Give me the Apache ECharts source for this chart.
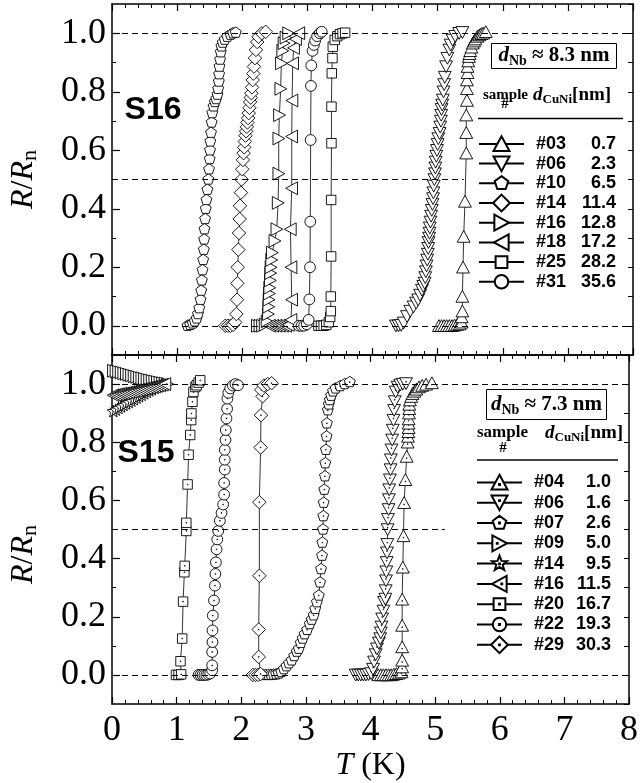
<!DOCTYPE html>
<html><head><meta charset="utf-8">
<script src="https://cdn.jsdelivr.net/npm/echarts@6/dist/echarts.min.js"></script>
<style>html,body{margin:0;padding:0;background:#fff}#c{width:641px;height:783px}</style>
</head><body><div id="c"></div>
<script>
// ---------- DATA ----------
// Panel S16 (d_Nb ~ 8.3 nm): [T (K), R/Rn]
const s16_03 = [[5.02,0],[5.06,0],[5.10,0],[5.14,0],[5.18,0],[5.22,0],[5.26,0.002],[5.30,0.004],[5.34,0.006],[5.37,0.012],[5.37,0.03],[5.38,0.05],[5.38,0.10],[5.39,0.20],[5.40,0.305],[5.42,0.425],[5.44,0.59],[5.44,0.66],[5.44,0.72],[5.45,0.77],[5.45,0.81],[5.45,0.84],[5.46,0.865],[5.46,0.886],[5.47,0.905],[5.48,0.92],[5.49,0.93],[5.50,0.94],[5.52,0.952],[5.54,0.966],[5.56,0.973],[5.58,0.98],[5.61,0.989],[5.64,0.994],[5.67,0.998],[5.70,1.0],[5.74,1.005]];
const s16_06 = [[4.36,0],[4.40,0],[4.44,0.002],[4.48,0.01],[4.53,0.032],[4.58,0.05],[4.63,0.065],[4.67,0.078],[4.70,0.089],[4.73,0.105],[4.76,0.122],[4.78,0.135],[4.80,0.146],[4.81,0.165],[4.82,0.185],[4.83,0.205],[4.84,0.225],[4.85,0.245],[4.855,0.265],[4.86,0.285],[4.87,0.30],[4.875,0.317],[4.88,0.335],[4.89,0.355],[4.90,0.375],[4.91,0.395],[4.92,0.415],[4.93,0.435],[4.935,0.455],[4.94,0.478],[4.95,0.50],[4.96,0.52],[4.965,0.54],[4.97,0.56],[4.98,0.58],[4.99,0.60],[5.00,0.62],[5.01,0.64],[5.03,0.658],[5.04,0.68],[5.05,0.70],[5.055,0.72],[5.06,0.74],[5.07,0.755],[5.08,0.772],[5.09,0.80],[5.10,0.825],[5.11,0.85],[5.13,0.886],[5.15,0.915],[5.18,0.943],[5.20,0.96],[5.23,0.977],[5.27,0.99],[5.33,1.0],[5.38,1.003]];
const s16_10 = [[1.16,0],[1.20,0.003],[1.24,0.008],[1.27,0.015],[1.30,0.025],[1.32,0.04],[1.34,0.06],[1.36,0.089],[1.37,0.12],[1.38,0.155],[1.39,0.19],[1.40,0.225],[1.41,0.26],[1.415,0.295],[1.42,0.33],[1.43,0.365],[1.44,0.40],[1.45,0.43],[1.465,0.465],[1.48,0.50],[1.49,0.535],[1.50,0.57],[1.505,0.60],[1.51,0.63],[1.52,0.66],[1.53,0.695],[1.54,0.727],[1.56,0.75],[1.58,0.765],[1.60,0.775],[1.62,0.79],[1.63,0.81],[1.64,0.835],[1.645,0.86],[1.65,0.886],[1.66,0.91],[1.67,0.935],[1.68,0.955],[1.70,0.968],[1.73,0.978],[1.77,0.988],[1.82,0.995],[1.86,1.0],[1.90,1.002]];
const s16_14 = [[1.74,0],[1.78,0],[1.82,0],[1.86,0.003],[1.89,0.012],[1.91,0.04],[1.92,0.089],[1.925,0.145],[1.93,0.20],[1.94,0.26],[1.95,0.317],[1.96,0.365],[1.965,0.41],[1.98,0.455],[1.99,0.50],[2.00,0.535],[2.01,0.567],[2.02,0.59],[2.03,0.61],[2.04,0.63],[2.05,0.65],[2.06,0.665],[2.07,0.68],[2.08,0.695],[2.09,0.71],[2.10,0.727],[2.11,0.745],[2.12,0.765],[2.13,0.78],[2.14,0.795],[2.15,0.815],[2.16,0.84],[2.17,0.862],[2.18,0.886],[2.195,0.915],[2.21,0.943],[2.23,0.97],[2.25,0.988],[2.30,1.0],[2.36,1.005]];
const s16_16 = [[2.23,0],[2.27,0],[2.31,0],[2.35,0.004],[2.38,0.015],[2.40,0.04],[2.405,0.065],[2.41,0.089],[2.415,0.11],[2.42,0.13],[2.43,0.155],[2.435,0.18],[2.44,0.20],[2.45,0.225],[2.46,0.25],[2.50,0.29],[2.53,0.33],[2.55,0.42],[2.56,0.52],[2.56,0.64],[2.57,0.72],[2.59,0.81],[2.60,0.897],[2.62,0.94],[2.64,0.966],[2.67,0.985],[2.71,1.0]];
const s16_18 = [[2.42,0],[2.47,0],[2.52,0],[2.57,0],[2.62,0],[2.67,0],[2.71,0.003],[2.75,0.02],[2.76,0.089],[2.75,0.20],[2.74,0.33],[2.76,0.47],[2.76,0.647],[2.765,0.77],[2.775,0.897],[2.79,0.95],[2.82,0.98],[2.87,1.0]];
const s16_25 = [[3.17,0],[3.21,0],[3.25,0],[3.29,0.003],[3.33,0.012],[3.35,0.03],[3.36,0.05],[3.36,0.10],[3.365,0.237],[3.365,0.43],[3.37,0.624],[3.37,0.749],[3.375,0.863],[3.385,0.915],[3.39,0.954],[3.42,0.977],[3.46,0.99],[3.50,0.997],[3.54,1.0],[3.58,1.002]];
const s16_31 = [[2.87,0],[2.91,0],[2.95,0],[2.99,0.005],[3.02,0.02],[3.03,0.09],[3.04,0.20],[3.045,0.356],[3.05,0.635],[3.055,0.82],[3.06,0.89],[3.08,0.94],[3.10,0.96],[3.12,0.975],[3.15,0.99],[3.19,1.0],[3.22,1.005]];

// Panel S15 (d_Nb ~ 7.3 nm)
const s15_04 = [[4.12,0],[4.16,0],[4.20,0],[4.24,0],[4.28,0],[4.32,0],[4.36,0.002],[4.40,0.004],[4.44,0.006],[4.48,0.01],[4.49,0.027],[4.49,0.05],[4.49,0.096],[4.49,0.17],[4.49,0.26],[4.50,0.37],[4.51,0.478],[4.52,0.592],[4.54,0.671],[4.56,0.751],[4.575,0.80],[4.58,0.82],[4.585,0.836],[4.59,0.85],[4.59,0.865],[4.59,0.88],[4.595,0.90],[4.60,0.915],[4.60,0.93],[4.61,0.945],[4.63,0.957],[4.65,0.967],[4.68,0.975],[4.71,0.982],[4.75,0.99],[4.80,0.995],[4.86,0.999],[4.95,1.004]];
const s15_06 = [[3.77,0],[3.81,0],[3.85,0],[3.89,0],[3.93,0],[3.97,0.002],[4.01,0.005],[4.04,0.02],[4.055,0.045],[4.08,0.07],[4.10,0.09],[4.13,0.11],[4.15,0.125],[4.16,0.145],[4.17,0.165],[4.18,0.193],[4.20,0.22],[4.21,0.25],[4.23,0.261],[4.235,0.29],[4.24,0.324],[4.245,0.355],[4.25,0.387],[4.255,0.42],[4.26,0.449],[4.265,0.5],[4.27,0.535],[4.28,0.569],[4.285,0.603],[4.29,0.637],[4.30,0.671],[4.31,0.706],[4.315,0.74],[4.325,0.774],[4.335,0.808],[4.345,0.842],[4.355,0.876],[4.365,0.91],[4.375,0.94],[4.39,0.973],[4.42,0.99],[4.46,0.997],[4.50,1.0],[4.55,1.002]];
const s15_07 = [[2.34,0],[2.38,0],[2.42,0],[2.46,0],[2.50,0.001],[2.54,0.002],[2.58,0.005],[2.62,0.01],[2.66,0.02],[2.70,0.03],[2.74,0.04],[2.78,0.05],[2.82,0.065],[2.86,0.08],[2.89,0.09],[2.92,0.11],[2.95,0.125],[2.98,0.14],[3.02,0.155],[3.06,0.175],[3.09,0.19],[3.12,0.205],[3.145,0.227],[3.17,0.25],[3.20,0.273],[3.22,0.318],[3.235,0.364],[3.25,0.41],[3.255,0.455],[3.265,0.5],[3.27,0.546],[3.275,0.592],[3.285,0.637],[3.295,0.683],[3.30,0.728],[3.31,0.774],[3.32,0.82],[3.325,0.865],[3.34,0.91],[3.355,0.93],[3.37,0.945],[3.39,0.96],[3.42,0.975],[3.46,0.985],[3.53,0.993],[3.60,1.0],[3.68,1.007]];
const s15_09 = [[0.02,1.046],[0.06,1.044],[0.10,1.042],[0.14,1.040],[0.18,1.037],[0.22,1.035],[0.26,1.032],[0.30,1.030],[0.34,1.027],[0.38,1.025],[0.42,1.022],[0.46,1.020],[0.50,1.018],[0.54,1.015],[0.58,1.013],[0.62,1.011],[0.66,1.009],[0.70,1.007],[0.74,1.005],[0.78,1.003],[0.82,1.002],[0.86,1.0]];
const s15_14 = [[0.02,0.905],[0.06,0.910],[0.10,0.916],[0.14,0.921],[0.18,0.926],[0.22,0.931],[0.26,0.936],[0.30,0.941],[0.34,0.946],[0.38,0.951],[0.42,0.956],[0.46,0.961],[0.50,0.966],[0.54,0.971],[0.58,0.976],[0.62,0.980],[0.66,0.985],[0.70,0.989],[0.74,0.993],[0.78,0.997]];
const s15_16 = [[0.02,0.962],[0.06,0.963],[0.10,0.965],[0.14,0.967],[0.18,0.968],[0.22,0.970],[0.26,0.972],[0.30,0.974],[0.34,0.976],[0.38,0.978],[0.42,0.980],[0.46,0.982],[0.50,0.984],[0.54,0.986],[0.58,0.988],[0.62,0.990],[0.66,0.992],[0.70,0.994],[0.74,0.996],[0.78,0.998],[0.82,1.0]];
const s15_20 = [[0.99,0],[1.03,0],[1.07,0.002],[1.06,0.047],[1.086,0.125],[1.10,0.252],[1.12,0.353],[1.125,0.375],[1.15,0.495],[1.15,0.523],[1.17,0.655],[1.185,0.757],[1.21,0.825],[1.225,0.876],[1.228,0.899],[1.245,0.939],[1.26,0.973],[1.29,0.99],[1.31,0.996],[1.34,1.005],[1.365,1.013]];
const s15_22 = [[1.34,0],[1.37,0],[1.40,0],[1.43,0],[1.46,0],[1.49,0.002],[1.52,0.005],[1.55,0.016],[1.55,0.033],[1.55,0.079],[1.555,0.113],[1.555,0.153],[1.56,0.204],[1.578,0.256],[1.593,0.307],[1.60,0.347],[1.608,0.387],[1.618,0.432],[1.629,0.466],[1.644,0.495],[1.669,0.53],[1.695,0.557],[1.72,0.586],[1.735,0.62],[1.735,0.66],[1.745,0.706],[1.745,0.74],[1.745,0.774],[1.756,0.808],[1.761,0.842],[1.771,0.882],[1.781,0.915],[1.786,0.95],[1.80,0.97],[1.83,0.985],[1.87,0.995],[1.91,1.0],[1.95,0.996]];
const s15_29 = [[2.18,0],[2.22,0],[2.26,0],[2.30,0.003],[2.27,0.062],[2.27,0.156],[2.28,0.341],[2.28,0.594],[2.30,0.782],[2.305,0.893],[2.33,0.958],[2.31,0.98],[2.35,0.995],[2.41,1.0],[2.47,1.003]];

// legend tables
const topIds    = ['#03','#06','#10','#14','#16','#18','#25','#31'];
const topDCuNi  = ['0.7','2.3','6.5','11.4','12.8','17.2','28.2','35.6'];
const botIds    = ['#04','#06','#07','#09','#14','#16','#20','#22','#29'];
const botDCuNi  = ['1.0','1.6','2.6','5.0','9.5','11.5','16.7','19.3','30.3'];
const yTicks = [0, 0.2, 0.4, 0.6, 0.8, 1.0];
const yMinorTicks = [0.1, 0.3, 0.5, 0.7, 0.9];
const refLevels = [0, 0.5, 1.0];
const halfLineEnd = [5.40, 5.15];

// ---------- SYMBOLS ----------
const BOX = 'M0 0M20 20';
const SH = {
  up:'M10 1L19.5 18.5L0.5 18.5Z', down:'M0.5 1.5L19.5 1.5L10 19Z',
  right:'M1.5 0.5L19 10L1.5 19.5Z', left:'M18.5 0.5L1 10L18.5 19.5Z',
  pent:'M10 1.5L18.1 7.4L15 16.9L5 16.9L1.9 7.4Z', diamond:'M10 0L20 10L10 20L0 10Z',
  square:'M3 3L17 3L17 17L3 17Z', circle:'M2 10A8 8 0 1 1 18 10A8 8 0 1 1 2 10Z',
  star:'M10 0.5L12.35 6.76L19.03 7.06L13.8 11.24L15.58 17.69L10 14L4.42 17.69L6.2 11.24L0.97 7.06L7.65 6.76Z'
};
const DC = {up:[10,12.5],down:[10,7.5],right:[7.3,10],left:[12.7,10],pent:[10,10],diamond:[10,10],square:[10,10],circle:[10,10],star:[10,10.3]};
function sym(k, dot){
  let p = 'path://' + BOX + SH[k];
  if (dot){ const c = DC[k]; p += 'M'+(c[0]-0.5)+' '+(c[1]-0.5)+'L'+(c[0]+0.5)+' '+(c[1]-0.5)+'L'+(c[0]+0.5)+' '+(c[1]+0.5)+'L'+(c[0]-0.5)+' '+(c[1]+0.5)+'Z'; }
  return p;
}
function mk(name, data, k, g){
  return {type:'line', name, data, xAxisIndex:g*2, yAxisIndex:g*3,
    symbol:sym(k, g===1), symbolSize:13.5, showAllSymbol:true, silent:true, animation:false,
    lineStyle:{color:'#000', width:0.8}, itemStyle:{color:'#fff', borderColor:'#000', borderWidth:0.9},
    emphasis:{disabled:true}, z:3};
}
const topSeries = [
  mk('S16 #03', s16_03, 'up', 0), mk('S16 #06', s16_06, 'down', 0), mk('S16 #10', s16_10, 'pent', 0),
  mk('S16 #14', s16_14, 'diamond', 0), mk('S16 #16', s16_16, 'right', 0), mk('S16 #18', s16_18, 'left', 0),
  mk('S16 #25', s16_25, 'square', 0), mk('S16 #31', s16_31, 'circle', 0)];
const botSeries = [
  mk('S15 #04', s15_04, 'up', 1), mk('S15 #06', s15_06, 'down', 1), mk('S15 #07', s15_07, 'pent', 1),
  mk('S15 #09', s15_09, 'right', 1), mk('S15 #14', s15_14, 'star', 1), mk('S15 #16', s15_16, 'left', 1),
  mk('S15 #20', s15_20, 'square', 1), mk('S15 #22', s15_22, 'circle', 1), mk('S15 #29', s15_29, 'diamond', 1)];

function refLines(g){
  return {type:'line', data:[], xAxisIndex:g*2, yAxisIndex:g*3, z:1, silent:true,
    markLine:{silent:true, animation:false, symbol:['none','none'], label:{show:false},
      lineStyle:{type:[6,4], color:'#000', width:1},
      data:[{yAxis:refLevels[0]}, {yAxis:refLevels[2]},
        [{coord:[0, refLevels[1]]}, {coord:[halfLineEnd[g], refLevels[1]]}]]}};
}

const SERIF = 'Liberation Serif', SANS = 'Liberation Sans';
function xAx(g, pos, labels){
  return {type:'value', gridIndex:g, position:pos, min:0, max:8, interval:1,
    axisLine:{show:true, onZero:false, lineStyle:{color:'#000', width:1.5}},
    axisTick:{show:true, inside:true, length:7, lineStyle:{color:'#000', width:1.2}},
    minorTick:{show:true, splitNumber:5, length:4, lineStyle:{color:'#000', width:1}},
    splitLine:{show:false}, minorSplitLine:{show:false},
    axisLabel:{show:labels, fontFamily:SERIF, fontSize:36, color:'#000', margin:9},
    name: labels ? '{i|T}{r| (K)}' : '', nameLocation:'middle', nameGap:46,
    nameTextStyle:{rich:{i:{fontFamily:SERIF, fontStyle:'italic', fontSize:32, color:'#000'}, r:{fontFamily:SERIF, fontSize:32, color:'#000'}}}};
}
function yMaj(g){
  return {type:'value', gridIndex:g, position:'left', min:-0.1, max:1.1,
    axisLine:{show:true, onZero:false, lineStyle:{color:'#000', width:1.5}},
    axisTick:{show:true, inside:true, length:8, customValues:yTicks, lineStyle:{color:'#000', width:1.2}},
    axisLabel:{show:true, customValues:yTicks, formatter:v=>v.toFixed(1), fontFamily:SERIF, fontSize:36, color:'#000', margin:6},
    splitLine:{show:false},
    name:'{i|R}{r|/}{i|R}{s|n}', nameLocation:'middle', nameRotate:90, nameGap:71,
    nameTextStyle:{rich:{i:{fontFamily:SERIF, fontStyle:'italic', fontSize:32, color:'#000'}, r:{fontFamily:SERIF, fontSize:32, color:'#000'},
      s:{fontFamily:SERIF, fontSize:22, color:'#000', padding:[12, g===1 ? 50 : 0, 0, 0]}}}};
}
function yMin(g){
  return {type:'value', gridIndex:g, position:'left', min:-0.1, max:1.1,
    axisLine:{show:false, onZero:false}, axisLabel:{show:false}, splitLine:{show:false},
    axisTick:{show:true, inside:true, length:4, customValues:yMinorTicks, lineStyle:{color:'#000', width:1}}};
}
function yRight(g){
  return {type:'value', gridIndex:g, position:'right', min:-0.1, max:1.1, interval:0.1,
    axisLine:{show:true, onZero:false, lineStyle:{color:'#000', width:1.5}}, axisLabel:{show:false}, splitLine:{show:false},
    axisTick:{show:true, inside:true, length:5, lineStyle:{color:'#000', width:1}}};
}

function legendFor(series, ids, vals, left, top, gap, bw){
  const map = {};
  series.forEach((s,i)=>{ map[s.name] = [ids[i], vals[i]]; });
  return {orient:'vertical', left, top, padding:0, itemWidth:45, itemHeight:21, itemGap:gap, selectedMode:false,
    data: series.map(s=>s.name),
    formatter: n => '{s| }{a|' + map[n][0] + '}{b|' + map[n][1] + '}',
    textStyle:{color:'#000', rich:{
      s:{width:7, fontSize:18},
      a:{width:40, fontFamily:SANS, fontWeight:'bold', fontSize:18, color:'#000'},
      b:{width:bw, align:'right', fontFamily:SANS, fontWeight:'bold', fontSize:18, color:'#000'}}}};
}

const richHdr = {
  d:{fontFamily:SERIF, fontStyle:'italic', fontWeight:'bold', fontSize:21, fill:'#000'},
  s:{fontFamily:SERIF, fontWeight:'bold', fontSize:14, fill:'#000', padding:[11,0,0,0]},
  t:{fontFamily:SERIF, fontWeight:'bold', fontSize:21, fill:'#000'}
};
const richCol = {
  d:{fontFamily:SERIF, fontStyle:'italic', fontWeight:'bold', fontSize:19, fill:'#000'},
  s:{fontFamily:SERIF, fontWeight:'bold', fontSize:13, fill:'#000', padding:[10,0,0,0]},
  t:{fontFamily:SERIF, fontWeight:'bold', fontSize:19, fill:'#000'}
};
function header(box, label, sampleXY, hashXY, colXY, lineY, lineX, sampleSize){
  return [
    {type:'rect', z:50, shape:{x:box[0], y:box[1], width:box[2], height:box[3]}, style:{fill:'#fff', stroke:'#000', lineWidth:1}},
    {type:'text', z:51, x:box[0]+box[2]/2, y:box[1]+box[3]/2, style:{text:'{d|d}{s|Nb}{t| ≈ '+label+' nm}', rich:richHdr, align:'center', verticalAlign:'middle'}},
    {type:'text', z:51, x:sampleXY[0], y:sampleXY[1], style:{text:'sample', fontFamily:SERIF, fontWeight:'bold', fontSize:sampleSize, fill:'#000', verticalAlign:'middle'}},
    {type:'text', z:51, x:hashXY[0], y:hashXY[1], style:{text:'#', fontFamily:SERIF, fontWeight:'bold', fontSize:15, fill:'#000', align:'center', verticalAlign:'middle'}},
    {type:'text', z:51, x:colXY[0], y:colXY[1], style:{text:'{d|d}{s|CuNi}{t|[nm]}', rich:richCol, verticalAlign:'middle'}},
    {type:'line', z:51, shape:{x1:lineX[0], y1:lineY, x2:lineX[1], y2:lineY}, style:{stroke:'#000', lineWidth:1.5}}
  ];
}

const option = {
  backgroundColor:'#fff', animation:false,
  grid:[{left:109, top:4, width:524, height:351}, {left:109, top:355, width:524, height:351}],
  xAxis:[xAx(0,'bottom',false), xAx(0,'top',false), xAx(1,'bottom',true), xAx(1,'top',false)],
  yAxis:[yMaj(0), yMin(0), yRight(0), yMaj(1), yMin(1), yRight(1)],
  legend:[legendFor(topSeries, topIds, topDCuNi, 478, 134.5, 0.9, 40),
          legendFor(botSeries, botIds, botDCuNi, 476, 473, 1.5, 37)],
  graphic:[].concat(
    header([491.5,43.5,125,25], '8.3', [483,95], [505,104], [533,95], 118.5, [478,623], 15),
    header([486.5,389.5,120,30], '7.3', [477,433], [503,448], [545,433], 460, [477,618], 17),
    [{type:'text', z:51, x:153, y:110, style:{text:'S16', fontFamily:SANS, fontWeight:'bold', fontSize:32, fill:'#000', align:'center', verticalAlign:'middle'}},
     {type:'text', z:51, x:146, y:453, style:{text:'S15', fontFamily:SANS, fontWeight:'bold', fontSize:32, fill:'#000', align:'center', verticalAlign:'middle'}}]
  ),
  series:[refLines(0), refLines(1)].concat(topSeries, botSeries)
};
const chart = echarts.init(document.getElementById('c'), null, {renderer:'canvas'});
chart.setOption(option);
</script></body></html>
